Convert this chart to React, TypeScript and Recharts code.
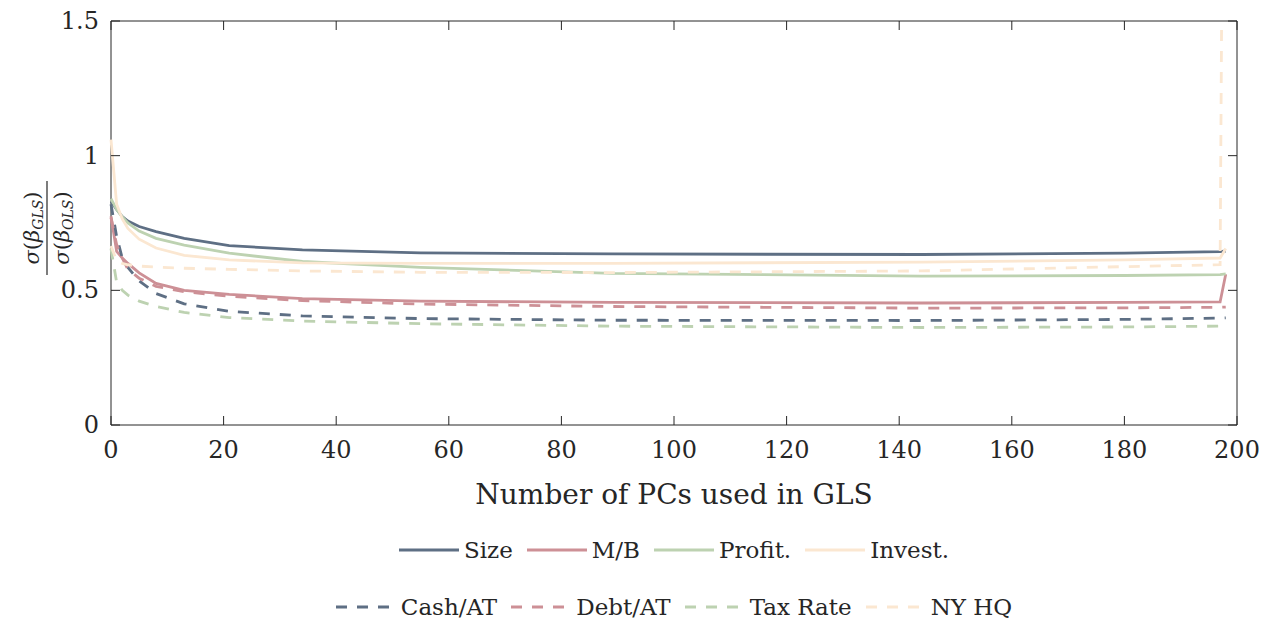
import React from "react";
import { LineChart, Line, XAxis, YAxis, ReferenceArea } from "recharts";

// number of principal components used in the GLS fit
const pcs = [0, 1, 2, 3, 5, 8, 13, 21, 34, 55, 89, 144, 180, 197, 198];

// sigma(beta_GLS) / sigma(beta_OLS) per characteristic
const size = [0.83, 0.8, 0.774, 0.757, 0.737, 0.718, 0.693, 0.666, 0.65, 0.639, 0.635, 0.633, 0.638, 0.644, 0.646];
const mb = [0.775, 0.645, 0.62, 0.6, 0.565, 0.526, 0.5, 0.485, 0.469, 0.46, 0.455, 0.453, 0.455, 0.457, 0.56];
const profit = [0.84, 0.8, 0.773, 0.75, 0.72, 0.693, 0.668, 0.638, 0.607, 0.585, 0.563, 0.553, 0.555, 0.558, 0.561];
const invest = [1.06, 0.82, 0.765, 0.73, 0.69, 0.657, 0.63, 0.613, 0.602, 0.6, 0.6, 0.605, 0.613, 0.62, 0.655];
const cash = [0.82, 0.7, 0.62, 0.585, 0.535, 0.488, 0.45, 0.422, 0.405, 0.395, 0.389, 0.388, 0.392, 0.397, 0.398];
const debt = [0.77, 0.67, 0.62, 0.578, 0.545, 0.515, 0.495, 0.478, 0.462, 0.449, 0.44, 0.434, 0.435, 0.437, 0.438];
const tax = [0.655, 0.53, 0.5, 0.482, 0.46, 0.44, 0.418, 0.399, 0.386, 0.376, 0.367, 0.362, 0.364, 0.367, 0.369];
const nyhq = [0.665, 0.61, 0.6, 0.595, 0.59, 0.586, 0.582, 0.578, 0.572, 0.567, 0.566, 0.572, 0.588, 0.595, 4.0];

const xTicks = [0, 20, 40, 60, 80, 100, 120, 140, 160, 180, 200];
const yTicks = [0, 0.5, 1, 1.5];

const series = [
  { key: "size", name: "Size", values: size, color: "#5e6f84", dashed: false },
  { key: "mb", name: "M/B", values: mb, color: "#cd9096", dashed: false },
  { key: "profit", name: "Profit.", values: profit, color: "#bdd2b1", dashed: false },
  { key: "invest", name: "Invest.", values: invest, color: "#fbe7d1", dashed: false },
  { key: "cash", name: "Cash/AT", values: cash, color: "#5e6f84", dashed: true },
  { key: "debt", name: "Debt/AT", values: debt, color: "#cd9096", dashed: true },
  { key: "tax", name: "Tax Rate", values: tax, color: "#bdd2b1", dashed: true },
  { key: "nyhq", name: "NY HQ", values: nyhq, color: "#fbe7d1", dashed: true },
];

const data = pcs.map((n, i) => {
  const row: Record<string, number> = { n };
  series.forEach((s) => (row[s.key] = s.values[i]));
  return row;
});

const W = 1262;
const H = 623;
const PLOT_LEFT = 111;
const PLOT_RIGHT = 1237;
const PLOT_TOP = 21;
const PLOT_BOTTOM = 425;
const FONT = "'DejaVu Serif', serif";
const INK = "#262626";
const DASH = "11 10";

function fmtY(v: number) {
  return v === 0 || v === 1 ? String(v) : v.toFixed(1);
}

function YTick(props: any) {
  const { y, payload } = props;
  return (
    <g>
      <text x={PLOT_LEFT - 12} y={y} textAnchor="end" dominantBaseline="central" fontSize={24} fill={INK} fontFamily={FONT}>
        {fmtY(payload.value)}
      </text>
      <line x1={PLOT_LEFT} x2={PLOT_LEFT + 9} y1={y} y2={y} stroke={INK} />
      <line x1={PLOT_RIGHT - 9} x2={PLOT_RIGHT} y1={y} y2={y} stroke={INK} />
    </g>
  );
}

function XTick(props: any) {
  const { x, payload } = props;
  return (
    <g>
      <text x={x} y={450} textAnchor="middle" dominantBaseline="central" fontSize={24} fill={INK} fontFamily={FONT}>
        {payload.value}
      </text>
      <line x1={x} x2={x} y1={PLOT_BOTTOM - 9} y2={PLOT_BOTTOM} stroke={INK} />
      <line x1={x} x2={x} y1={PLOT_TOP} y2={PLOT_TOP + 9} stroke={INK} />
    </g>
  );
}

// rotated fraction sigma(beta_GLS) / sigma(beta_OLS)
function RatioLabel() {
  const cx = 47;
  const cy = 228;
  const sub = { fontSize: 14, fontStyle: "italic" as const };
  return (
    <g transform={`translate(${cx},${cy}) rotate(-90)`} fontFamily={FONT} fill={INK} fontSize={21}>
      <text x={0} y={-8} textAnchor="middle">
        <tspan fontStyle="italic">σ</tspan>
        <tspan>(</tspan>
        <tspan fontStyle="italic">β</tspan>
        <tspan {...sub} dy={4}>GLS</tspan>
        <tspan dy={-4}>)</tspan>
      </text>
      <line x1={-47} x2={47} y1={0} y2={0} stroke={INK} strokeWidth={1.2} />
      <text x={0} y={22} textAnchor="middle">
        <tspan fontStyle="italic">σ</tspan>
        <tspan>(</tspan>
        <tspan fontStyle="italic">β</tspan>
        <tspan {...sub} dy={4}>OLS</tspan>
        <tspan dy={-4}>)</tspan>
      </text>
    </g>
  );
}

function LegendRow({ items, top }: { items: typeof series; top: number }) {
  return (
    <div
      style={{
        position: "absolute",
        left: PLOT_LEFT,
        width: PLOT_RIGHT - PLOT_LEFT,
        top,
        display: "flex",
        justifyContent: "center",
        alignItems: "center",
        gap: 14,
        fontFamily: FONT,
        fontSize: 23,
        color: INK,
        lineHeight: "30px",
      }}
    >
      {items.map((s) => (
        <div key={s.key} style={{ display: "flex", alignItems: "center", gap: 5 }}>
          <svg width={60} height={10}>
            <line x1={0} x2={60} y1={5} y2={5} stroke={s.color} strokeWidth={3} strokeDasharray={s.dashed ? DASH : undefined} />
          </svg>
          <span>{s.name}</span>
        </div>
      ))}
    </div>
  );
}

export default function App() {
  return (
    <div style={{ position: "absolute", left: 0, top: 0, width: W, height: H, background: "#fff" }}>
      <LineChart
        width={W}
        height={H}
        data={data}
        margin={{ top: PLOT_TOP, right: W - PLOT_RIGHT, left: PLOT_LEFT - 60, bottom: H - PLOT_BOTTOM - 60 }}
      >
        <XAxis
          dataKey="n"
          type="number"
          domain={[0, 200]}
          ticks={xTicks}
          height={60}
          axisLine={false}
          tickLine={false}
          tick={<XTick />}
          interval={0}
        />
        <YAxis
          type="number"
          domain={[0, 1.5]}
          ticks={yTicks}
          width={60}
          allowDataOverflow
          axisLine={false}
          tickLine={false}
          tick={<YTick />}
          interval={0}
        />
        <ReferenceArea x1={0} x2={200} y1={0} y2={1.5} fill="none" stroke={INK} strokeWidth={1} />
        {series.map((s) => (
          <Line
            key={s.key}
            dataKey={s.key}
            name={s.name}
            type="linear"
            stroke={s.color}
            strokeWidth={2.8}
            strokeDasharray={s.dashed ? DASH : undefined}
            dot={false}
            activeDot={false}
            isAnimationActive={false}
          />
        ))}
      </LineChart>
      <svg width={W} height={H} style={{ position: "absolute", left: 0, top: 0, pointerEvents: "none" }}>
        <RatioLabel />
        <text x={(PLOT_LEFT + PLOT_RIGHT) / 2} y={504} textAnchor="middle" fontSize={28} fill={INK} fontFamily={FONT}>
          Number of PCs used in GLS
        </text>
      </svg>
      <LegendRow items={series.slice(0, 4)} top={535} />
      <LegendRow items={series.slice(4)} top={592} />
    </div>
  );
}
